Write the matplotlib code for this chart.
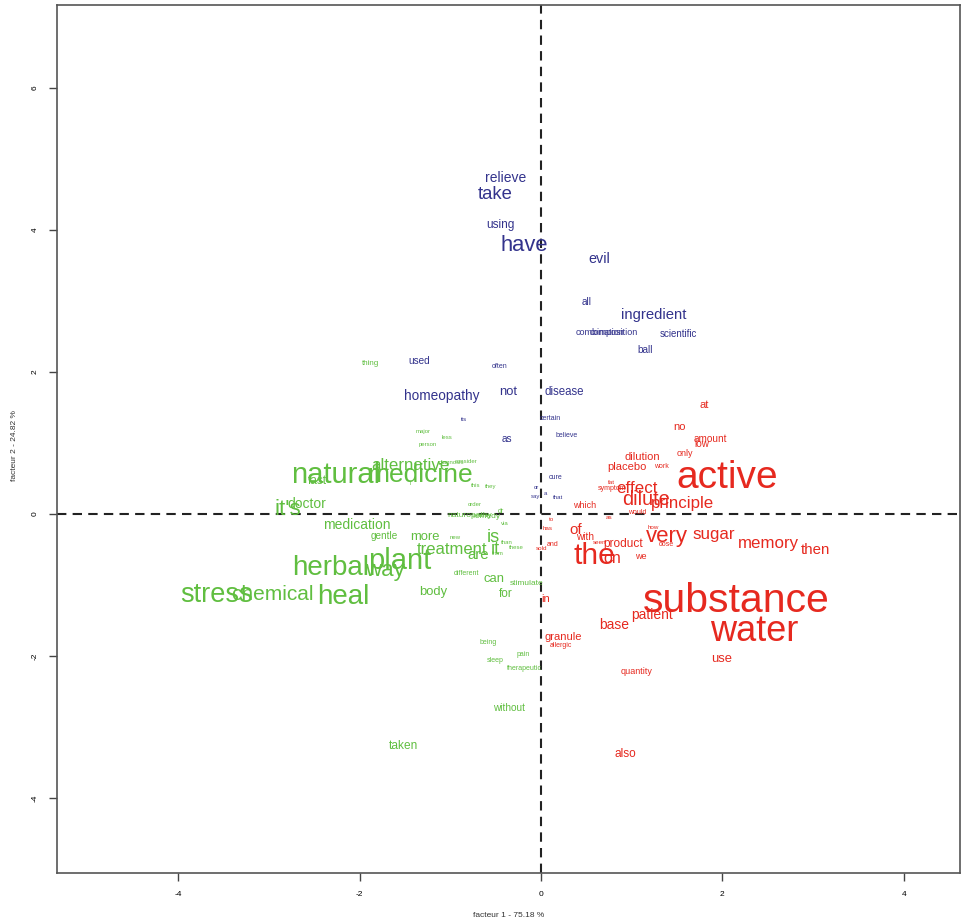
import matplotlib
matplotlib.use("Agg")
import matplotlib.pyplot as plt

plt.rcParams['font.family'] = ['Liberation Sans', 'DejaVu Sans']
plt.rcParams['axes.unicode_minus'] = False

# ---- data: word, factor-1 coordinate, factor-2 coordinate, weight ----
blue_words = ["relieve", "take", "using", "have", "evil", "all", "ingredient",
              "combination", "composition", "scientific", "ball", "used", "often",
              "homeopathy", "not", "disease", "its", "certain", "as", "believe",
              "cure", "or", "a", "say", "that"]
blue_x = [-0.386, -0.507, -0.452, -0.187, 0.639, 0.507, 1.245,
          0.650, 0.804, 1.510, 1.146, -1.344, -0.452,
          -1.091, -0.364, 0.253, -0.848, 0.099, -0.375, 0.287,
          0.165, -0.055, 0.044, -0.055, 0.187]
blue_y = [4.753, 4.527, 4.090, 3.822, 3.611, 3.004, 2.821,
          2.567, 2.567, 2.553, 2.327, 2.172, 2.087,
          1.678, 1.735, 1.735, 1.340, 1.354, 1.072, 1.114,
          0.522, 0.381, 0.296, 0.254, 0.240]
blue_w = [10, 13.3, 8.6, 15.8, 10.4, 7.2, 10.7,
          6.5, 6.5, 7, 7.2, 7.2, 5,
          9.8, 9.4, 8.3, 4.3, 5, 7.2, 5,
          5, 4.3, 4.3, 4.3, 4.3]

green_words = ["thing", "major", "less", "person", "alternative", "natural",
               "medicine", "diagnosis", "consider", "fast", "i", "this", "they",
               "it's", "doctor", "order", "naturopathy", "remedy", "dr",
               "medication", "gentle", "more", "new", "via", "than", "these",
               "is", "treatment", "it", "are", "from", "herbal", "plant", "way",
               "stress", "chemical", "heal", "body", "different", "can", "for",
               "stimulate", "being", "pain", "sleep", "therapeutic", "without",
               "taken"]
green_x = [-1.884, -1.300, -1.036, -1.245, -1.444, -2.259,
           -1.333, -0.992, -0.826, -2.468, -1.444, -0.716, -0.551,
           -2.788, -2.579, -0.727, -0.782, -0.606, -0.441,
           -2.028, -1.730, -1.278, -0.948, -0.397, -0.375, -0.275,
           -0.529, -0.981, -0.507, -0.694, -0.474, -2.314, -1.554, -1.719,
           -3.581, -2.964, -2.182, -1.190, -0.826, -0.518, -0.386,
           -0.154, -0.584, -0.198, -0.507, -0.187, -0.353,
           -1.521]
green_y = [2.130, 1.171, 1.086, 0.987, 0.705, 0.592,
           0.592, 0.733, 0.748, 0.480, 0.437, 0.409, 0.395,
           0.099, 0.169, 0.141, 0.000, -0.014, 0.056,
           -0.127, -0.296, -0.296, -0.324, -0.127, -0.395, -0.465,
           -0.296, -0.480, -0.465, -0.550, -0.550, -0.719, -0.621, -0.762,
           -1.100, -1.100, -1.128, -1.072, -0.818, -0.889, -1.100,
           -0.959, -1.791, -1.961, -2.045, -2.158, -2.722,
           -3.244]
green_w = [5.8, 4.3, 4.3, 4.3, 12.2, 21,
           19, 4.3, 4.3, 8.6, 4.3, 4.3, 4.3,
           16, 10, 4.3, 6, 6, 5,
           10, 7.2, 9.4, 4.3, 4.3, 4.3, 4.3,
           13, 12, 13, 10.8, 4.3, 20, 21, 16,
           19.5, 15, 20, 9.4, 5, 9.4, 8.6,
           6, 5, 5, 5, 5, 7.2,
           8.6]

red_words = ["at", "no", "amount", "low", "only", "dilution", "placebo", "work",
             "active", "fat", "symptom", "effect", "dilute", "principle", "which",
             "would", "as", "to", "has", "of", "how", "very", "dose", "sugar",
             "memory", "then", "with", "seen", "product", "and", "sold", "the",
             "on", "we", "in", "substance", "water", "patient", "base",
             "granule", "allergic", "use", "quantity", "also"]
red_x = [1.796, 1.532, 1.873, 1.774, 1.587, 1.113, 0.948, 1.322,
         2.050, 0.782, 0.782, 1.058, 1.157, 1.565, 0.485,
         1.058, 0.749, 0.121, 0.077, 0.386, 1.234, 1.388, 1.377, 1.906,
         2.512, 3.030, 0.485, 0.650, 0.904, 0.132, 0.011, 0.584,
         0.782, 1.102, 0.055, 2.149, 2.347, 1.223, 0.804,
         0.242, 0.220, 1.994, 1.058, 0.926]
red_y = [1.551, 1.241, 1.072, 1.001, 0.860, 0.818, 0.677, 0.677,
         0.564, 0.451, 0.367, 0.381, 0.226, 0.169, 0.141,
         0.042, -0.042, -0.071, -0.197, -0.197, -0.183, -0.282, -0.409, -0.268,
         -0.395, -0.480, -0.310, -0.395, -0.395, -0.409, -0.480, -0.550,
         -0.606, -0.578, -1.185, -1.171, -1.594, -1.396, -1.537,
         -1.721, -1.834, -2.017, -2.200, -3.357]
red_w = [8, 8, 7.2, 7.2, 6.5, 8, 8, 5,
         28, 4.5, 5, 12.2, 14.4, 12.2, 6.5,
         5, 4.5, 4.5, 4.5, 10.8, 4.5, 16, 5, 12.2,
         12.2, 10.8, 7.2, 4.5, 8.6, 5, 4.5, 21.6,
         11.5, 6.5, 8, 29.5, 26, 10, 10,
         8, 5, 9.4, 6.5, 8.6]

x_ticks = [-4, -2, 0, 2, 4]
y_ticks = [-4, -2, 0, 2, 4, 6]
x_label = "facteur 1 - 75.18 %"
y_label = "facteur 2 - 24.82 %"

groups = [
    (blue_words, blue_x, blue_y, blue_w, "#33338c"),
    (green_words, green_x, green_y, green_w, "#60be40"),
    (red_words, red_x, red_y, red_w, "#e6291f"),
]

fig = plt.figure(figsize=(9.61, 9.24), dpi=100)
ax = fig.add_axes([0.0593, 0.0552, 0.9397, 0.9394])
ax.set_xlim(-5.336, 4.62)
ax.set_ylim(-5.056, 7.17)

for words, xs, ys, ws, col in groups:
    for w, x, y, s in zip(words, xs, ys, ws):
        ax.text(x, y, w, color=col, fontsize=s, ha='center', va='center_baseline')

ax.axhline(0, color='#222222', lw=1.5, ls=(0, (4.5, 3)), zorder=0)
ax.axvline(0, color='#222222', lw=1.5, ls=(0, (4.5, 3)), zorder=0)

ax.set_xticks(x_ticks)
ax.set_yticks(y_ticks)
ax.tick_params(labelsize=6, length=6, width=1, color='#444444', direction='out', pad=7)
for lab in ax.get_yticklabels():
    lab.set_rotation(90)
    lab.set_va('center')
for sp in ax.spines.values():
    sp.set_color('#555555')
    sp.set_linewidth(1.2)

fig.text(0.529, 0.009, x_label, fontsize=6, ha='center', va='center', color='#333333')
fig.text(0.015, 0.518, y_label, fontsize=6, ha='center', va='center', rotation=90, color='#333333')

fig.savefig("out.png", dpi=100)
